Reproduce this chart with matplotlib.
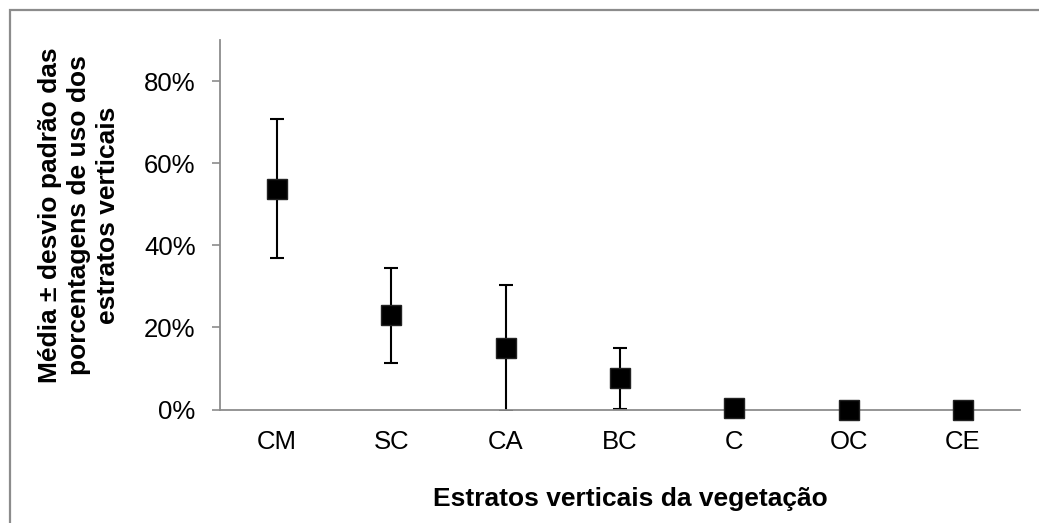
import numpy as np
import matplotlib
matplotlib.use("Agg")
import matplotlib.pyplot as plt
from matplotlib.patches import Rectangle
from matplotlib.ticker import PercentFormatter

plt.rcParams['font.family'] = ['Liberation Sans', 'DejaVu Sans']

# vertical strata of the vegetation: mean and standard deviation (%)
strata = ['CM', 'SC', 'CA', 'BC', 'C', 'OC', 'CE']
mean_pct = [53.8, 22.9, 15.0, 7.6, 0.4, 0.0, 0.0]
sd_pct = [16.9, 11.6, 15.3, 7.4, 0.0, 0.0, 0.0]
y_ticks = [0, 20, 40, 60, 80]

axis_grey = '#8c8c8c'

fig = plt.figure(figsize=(10.39, 5.23), dpi=100)
ax = fig.add_axes([0.2117, 0.217, 0.770, 0.7065])

x = np.arange(len(strata))

# error bars are clipped at the axis floor, markers are not
ax.errorbar(x, mean_pct, yerr=sd_pct, fmt='none', ecolor='black',
            elinewidth=1.5, capsize=4.7, capthick=1.5, zorder=2)
ax.plot(x, mean_pct, linestyle='none', marker='s', markersize=14.5,
        color='black', markeredgecolor='#222222', clip_on=False, zorder=3)

ax.set_xlim(-0.5, len(strata) - 0.5)
ax.set_ylim(0, 90)
ax.set_xticks(x)
ax.set_xticklabels(strata)
ax.set_yticks(y_ticks)
ax.yaxis.set_major_formatter(PercentFormatter(decimals=0))

for side in ['top', 'right']:
    ax.spines[side].set_visible(False)
for side in ['left', 'bottom']:
    ax.spines[side].set_color(axis_grey)
    ax.spines[side].set_linewidth(1.3)

ax.tick_params(axis='x', length=0, pad=15, labelsize=18.5)
ax.tick_params(axis='y', length=5.5, width=1.2, color=axis_grey,
               pad=12, labelsize=18.5)

ax.set_xlabel('Estratos verticais da vegetação', fontsize=19,
              fontweight='bold')
ax.xaxis.set_label_coords(0.5125, -0.21)

fig.text(79 / 1039, 1 - 215 / 523,
         'Média ± desvio padrão das\nporcentagens de uso dos\nestratos verticais',
         rotation=90, ha='center', va='center', fontsize=19,
         fontweight='bold', linespacing=1.25, multialignment='center')

# chart area frame
fig.patches.append(Rectangle((9.5 / 1039, -0.1), 1.2, 1.1 - 10.5 / 523,
                             transform=fig.transFigure, fill=False,
                             edgecolor=axis_grey, linewidth=1.6))

fig.savefig('out.png', dpi=100)
